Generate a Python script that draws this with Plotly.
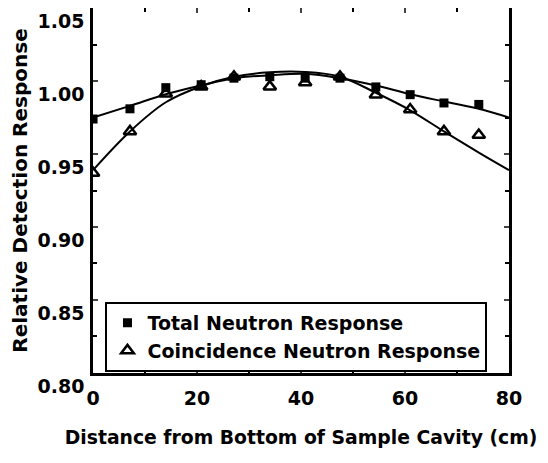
import plotly.graph_objects as go

# measured positions (cm)
positions = [0, 7.1, 14.0, 20.8, 27.1, 34.0, 40.8, 47.5, 54.4, 61.0, 67.5, 74.2]
total_resp = [0.974, 0.981, 0.9955, 0.9975, 1.002, 1.003, 1.002, 1.002, 0.996, 0.9907, 0.985, 0.984]
coinc_resp = [0.937, 0.9655, 0.9914, 0.9962, 1.003, 0.9962, 0.999, 1.003, 0.9907, 0.9805, 0.9655, 0.963]

# fitted curves
fit_x = [0, 7.1, 14.0, 20.8, 27.1, 34.0, 40.8, 47.5, 54.4, 61.0, 67.5, 74.2, 80]
total_fit = [0.975, 0.983, 0.991, 0.997, 1.002, 1.004, 1.005, 1.002, 0.997, 0.991, 0.986, 0.981, 0.975]
coinc_fit = [0.939, 0.9655, 0.9855, 0.9965, 1.003, 1.006, 1.0062, 1.003, 0.992, 0.980, 0.9655, 0.951, 0.939]

x_ticks = [0, 20, 40, 60, 80]
y_ticks = [0.80, 0.85, 0.90, 0.95, 1.00, 1.05]
y_labels = ["0.80", "0.85", "0.90", "0.95", "1.00", "1.05"]

FONT = "DejaVu Sans, sans-serif"

fig = go.Figure()
fig.add_trace(go.Scatter(x=fit_x, y=total_fit, mode="lines", line=dict(color="black", width=2, shape="spline"),
                         showlegend=False, hoverinfo="skip"))
fig.add_trace(go.Scatter(x=fit_x, y=coinc_fit, mode="lines", line=dict(color="black", width=2, shape="spline"),
                         showlegend=False, hoverinfo="skip"))
fig.add_trace(go.Scatter(x=positions, y=total_resp, mode="markers", name="Total Neutron Response",
                         marker=dict(symbol="square", size=9, color="black")))
fig.add_trace(go.Scatter(x=positions, y=coinc_resp, mode="markers", name="Coincidence Neutron Response",
                         marker=dict(symbol="triangle-up-open", size=11, color="black", line=dict(width=2.5, color="black"))))

fig.update_layout(
    width=540, height=455,
    margin=dict(l=85, r=39, t=0, b=90, autoexpand=False),
    paper_bgcolor="white", plot_bgcolor="white",
    font=dict(family=FONT, color="black", size=16),
    legend=dict(x=0.03, y=0.195, xanchor="left", yanchor="top",
                bordercolor="black", borderwidth=2, bgcolor="white",
                font=dict(size=19, family=FONT, weight="bold"),
                tracegroupgap=0, itemwidth=30),
)
fig.update_xaxes(range=[-0.01, 80.01], tickvals=x_ticks, ticks="inside", ticklen=5, tickwidth=2,
                 showline=True, linecolor="black", linewidth=2.5, mirror="ticks",
                 showgrid=False, zeroline=False, automargin=False,
                 minor=dict(dtick=10, ticks="inside", ticklen=4, tickcolor="black", tickwidth=1.5),
                 tickfont=dict(size=19, family=FONT, weight="bold"),
                 ticklabelstandoff=6, ticklabeloverflow="allow",
                 title=dict(text="Distance from Bottom of Sample Cavity (cm)",
                            font=dict(size=18.8, family=FONT, weight="bold"), standoff=24))
fig.update_yaxes(range=[0.7999, 1.0501], tickvals=y_ticks, ticktext=y_labels, ticks="inside", ticklen=5, tickwidth=2,
                 showline=True, linecolor="black", linewidth=2.5, mirror="ticks",
                 showgrid=False, zeroline=False, automargin=False,
                 minor=dict(dtick=0.025, ticks="inside", ticklen=4, tickcolor="black", tickwidth=1.5),
                 tickfont=dict(size=19, family=FONT, weight="bold"),
                 ticklabelshift=13, ticklabelstandoff=2, ticklabeloverflow="allow",
                 title=dict(text="Relative Detection Response",
                            font=dict(size=20, family=FONT, weight="bold"), standoff=18))

fig.write_html("out.html")
